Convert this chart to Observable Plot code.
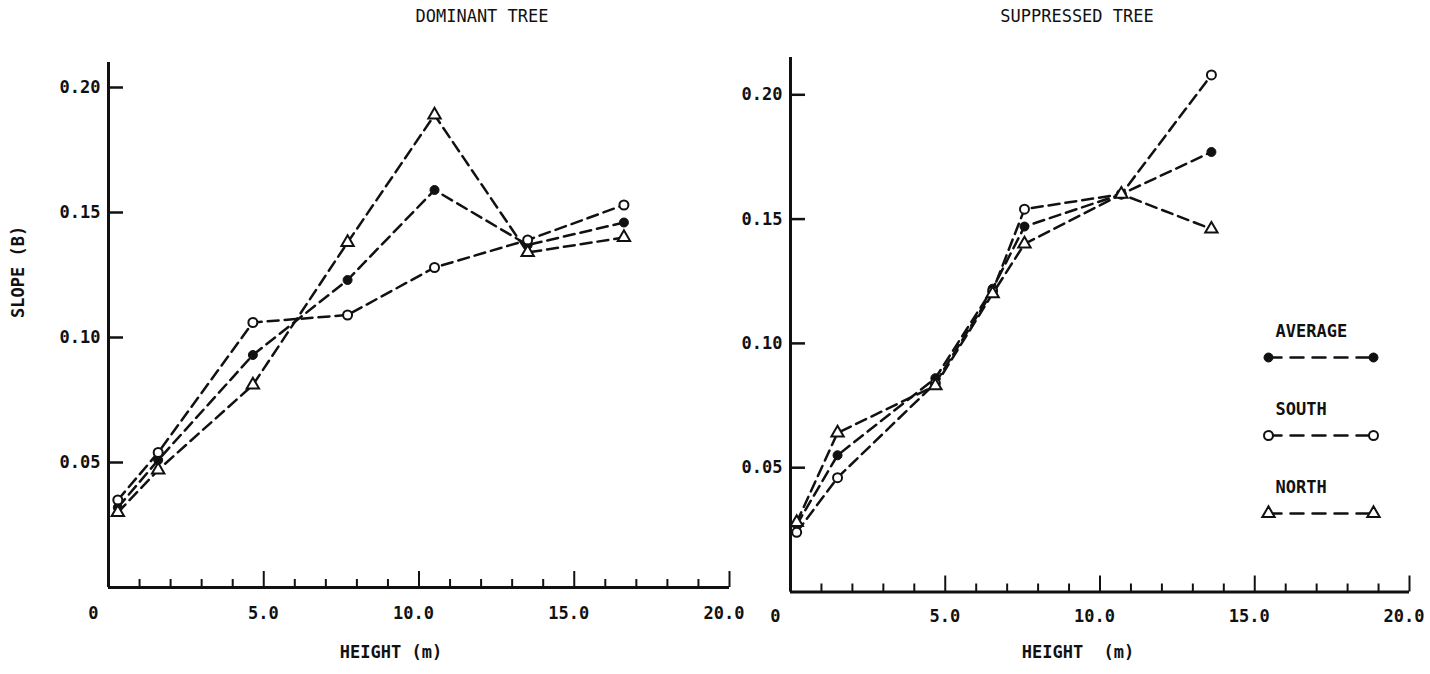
<!DOCTYPE html>
<html>
<head>
<meta charset="utf-8">
<script src="https://cdn.jsdelivr.net/npm/d3@7"></script>
<script src="https://cdn.jsdelivr.net/npm/@observablehq/plot@0.6"></script>
<style>
  body { margin: 0; background: #fff; }
  #chart { position: relative; width: 1430px; height: 674px; overflow: hidden; background: #fff; }
  #chart svg { position: absolute; top: 0; overflow: visible; }
</style>
</head>
<body>
<div id="chart"></div>
<script>
// Slope (B) against height along the stem, dominant and suppressed trees
const seriesNames = ["AVERAGE", "SOUTH", "NORTH"];

const dominantHeight  = [0.3, 1.6, 4.65, 7.7, 10.5, 13.5, 16.6];
const dominantAverage = [0.032, 0.051, 0.093, 0.123, 0.159, 0.137, 0.146];
const dominantSouth   = [0.035, 0.054, 0.106, 0.109, 0.128, 0.139, 0.153];
const dominantNorth   = [0.030, 0.047, 0.081, 0.138, 0.189, 0.134, 0.140];

const suppressedHeight  = [0.2, 1.52, 4.68, 6.53, 7.56, 10.69, 13.6];
const suppressedAverage = [0.027, 0.055, 0.086, 0.122, 0.147, 0.160, 0.177];
const suppressedSouth   = [0.024, 0.046, 0.084, 0.121, 0.154, 0.160, 0.208];
const suppressedNorth   = [0.028, 0.064, 0.083, 0.120, 0.140, 0.160, 0.146];

const majorTicksX = [0, 5, 10, 15, 20];
const minorTicksX = d3.range(0, 21).filter(d => d % 5 !== 0);
const labelTicksX = [5, 10, 15, 20];
const ticksY = [0.05, 0.10, 0.15, 0.20];

const INK = "#111";
const FONT = "'DejaVu Sans Mono', 'Liberation Mono', monospace";
const DASH = "11,6";

const markerStyle = {
  AVERAGE: {symbol: "circle", fill: INK, stroke: INK, r: 4.5, strokeWidth: 1},
  SOUTH:   {symbol: "circle", fill: "white", stroke: INK, r: 4.5, strokeWidth: 2},
  NORTH:   {symbol: "triangle", fill: "white", stroke: INK, r: 4.6, strokeWidth: 2}
};

function toRows(heights, average, south, north) {
  const byName = {AVERAGE: average, SOUTH: south, NORTH: north};
  return seriesNames.flatMap(s => heights.map((h, i) => ({series: s, height: h, slope: byName[s][i]})));
}

function markerMarks(data, x, y) {
  return seriesNames.map(s => Plot.dot(data.filter(d => d.series === s), {x, y, ...markerStyle[s]}));
}

function panel(cfg) {
  const rows = cfg.rows;
  return Plot.plot({
    width: cfg.width,
    height: 674,
    marginLeft: cfg.marginLeft,
    marginRight: cfg.marginRight,
    marginTop: cfg.marginTop,
    marginBottom: cfg.marginBottom,
    style: {fontFamily: FONT, fontSize: "17px", fontWeight: "bold", color: INK, background: "transparent", overflow: "visible"},
    x: {domain: [0, 20]},
    y: {domain: [0, cfg.yMax]},
    marks: [
      // frame: left and bottom axis lines
      Plot.ruleX([0], {stroke: INK, strokeWidth: 3}),
      Plot.ruleY([0], {stroke: INK, strokeWidth: 3}),
      // inward ticks
      Plot.axisX(minorTicksX, {tickSize: 8, dy: -8, text: null, label: null, stroke: INK, strokeWidth: 2}),
      Plot.axisX(majorTicksX, {tickSize: 16, dy: -16, text: null, label: null, stroke: INK, strokeWidth: 2}),
      Plot.axisY(ticksY, {tickSize: 15, dx: 15, text: null, label: null, stroke: INK, strokeWidth: 2.5}),
      // tick labels
      Plot.axisX(labelTicksX, {tickSize: 0, tickPadding: cfg.xPad, textAnchor: "end", dx: 15, tickFormat: d3.format(".1f"), label: null, fill: INK}),
      Plot.axisX([0], {tickSize: 0, tickPadding: cfg.xPad, textAnchor: "end", dx: -10, tickFormat: d => "0", label: null, fill: INK}),
      Plot.axisY(ticksY, {tickSize: 0, tickPadding: 8, tickFormat: d3.format(".2f"), label: null, fill: INK}),
      // titles and axis labels
      Plot.text([cfg.title], {frameAnchor: "top", dx: cfg.titleDx, dy: cfg.titleDy, lineAnchor: "middle", fontWeight: "normal", fill: INK}),
      Plot.text([cfg.xLabel], {frameAnchor: "bottom", dx: cfg.xLabelDx, dy: cfg.xLabelDy, lineAnchor: "middle", fill: INK}),
      ...(cfg.yLabel ? [Plot.text([cfg.yLabel], {frameAnchor: "left", rotate: -90, dx: cfg.yLabelDx, dy: cfg.yLabelDy, lineAnchor: "middle", fill: INK})] : []),
      // data
      Plot.line(rows, {x: "height", y: "slope", z: "series", stroke: INK, strokeWidth: 2.5, strokeDasharray: DASH}),
      ...markerMarks(rows, "height", "slope")
    ]
  });
}

const chart = document.getElementById("chart");

const dominant = panel({
  rows: toRows(dominantHeight, dominantAverage, dominantSouth, dominantNorth),
  title: "DOMINANT TREE", xLabel: "HEIGHT (m)", yLabel: "SLOPE (B)",
  width: 735, marginLeft: 108, marginRight: 6, marginTop: 62, marginBottom: 87,
  yMax: 0.21, xPad: 19,
  titleDx: 63, titleDy: -46, xLabelDx: -28, xLabelDy: 65, yLabelDx: -90, yLabelDy: -7
});
dominant.style.left = "0px";
chart.appendChild(dominant);

const suppressed = panel({
  rows: toRows(suppressedHeight, suppressedAverage, suppressedSouth, suppressedNorth),
  title: "SUPPRESSED TREE", xLabel: "HEIGHT\u00a0\u00a0(m)", yLabel: null,
  width: 695, marginLeft: 55, marginRight: 21, marginTop: 57, marginBottom: 82.5,
  yMax: 0.215, xPad: 18,
  titleDx: -23, titleDy: -41, xLabelDx: -22, xLabelDy: 61
});
suppressed.style.left = "735px";
chart.appendChild(suppressed);

// legend: one dashed sample line per series with its marker at both ends
const legendRows = seriesNames.flatMap(s => [{series: s, end: 0}, {series: s, end: 1}]);
const legend = Plot.plot({
  width: 170, height: 240, margin: 0,
  style: {fontFamily: FONT, fontSize: "17px", fontWeight: "bold", color: INK, background: "transparent", overflow: "visible"},
  x: {domain: [0, 1], range: [28, 133]},
  y: {type: "point", domain: seriesNames, range: [56, 213], padding: 0},
  axis: null,
  marks: [
    Plot.line(legendRows, {x: "end", y: "series", z: "series", stroke: INK, strokeWidth: 2.5, strokeDasharray: "13,9"}),
    ...markerMarks(legendRows, "end", "series"),
    Plot.text(seriesNames, {x: 0, y: d => d, text: d => d, textAnchor: "start", dx: 7, dy: -26, fill: INK})
  ]
});
legend.style.left = "1240px";
legend.style.top = "300px";
chart.appendChild(legend);
</script>
</body>
</html>
